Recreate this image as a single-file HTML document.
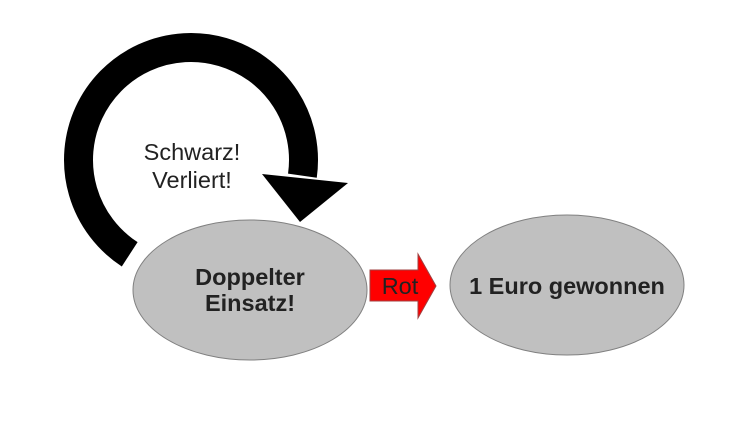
<!DOCTYPE html>
<html><head><style>body{margin:0;background:#fff}</style></head><body>
<svg width="753" height="431" viewBox="0 0 753 431" xmlns="http://www.w3.org/2000/svg" font-family="Liberation Sans, sans-serif">
<rect width="753" height="431" fill="#fff"/>
<path d="M129.7 254.3 A112.5 112.5 0 1 1 302.4 175.7" fill="none" stroke="#000" stroke-width="29"/>
<polygon points="262,174 348,183 300,222" fill="#000"/>
<text x="192" y="160" font-size="23.5" text-anchor="middle" fill="#222">Schwarz!</text>
<text x="192" y="188" font-size="23.5" text-anchor="middle" fill="#222">Verliert!</text>
<ellipse cx="250" cy="290" rx="117" ry="70" fill="#c0c0c0" stroke="#808080" stroke-width="1"/>
<text x="250" y="285" font-size="23.5" font-weight="bold" text-anchor="middle" fill="#222">Doppelter</text>
<text x="250" y="311" font-size="23.5" font-weight="bold" text-anchor="middle" fill="#222">Einsatz!</text>
<ellipse cx="567" cy="285" rx="117" ry="70" fill="#c0c0c0" stroke="#808080" stroke-width="1"/>
<text x="567" y="294" font-size="23.5" font-weight="bold" text-anchor="middle" fill="#222">1 Euro gewonnen</text>
<polygon points="370,270 418,270 418,254 436,286 418,318 418,301 370,301" fill="#ff0000" stroke="#a04040" stroke-width="1"/>
<text x="400" y="294" font-size="23.5" text-anchor="middle" fill="#222">Rot</text>
</svg>
</body></html>
